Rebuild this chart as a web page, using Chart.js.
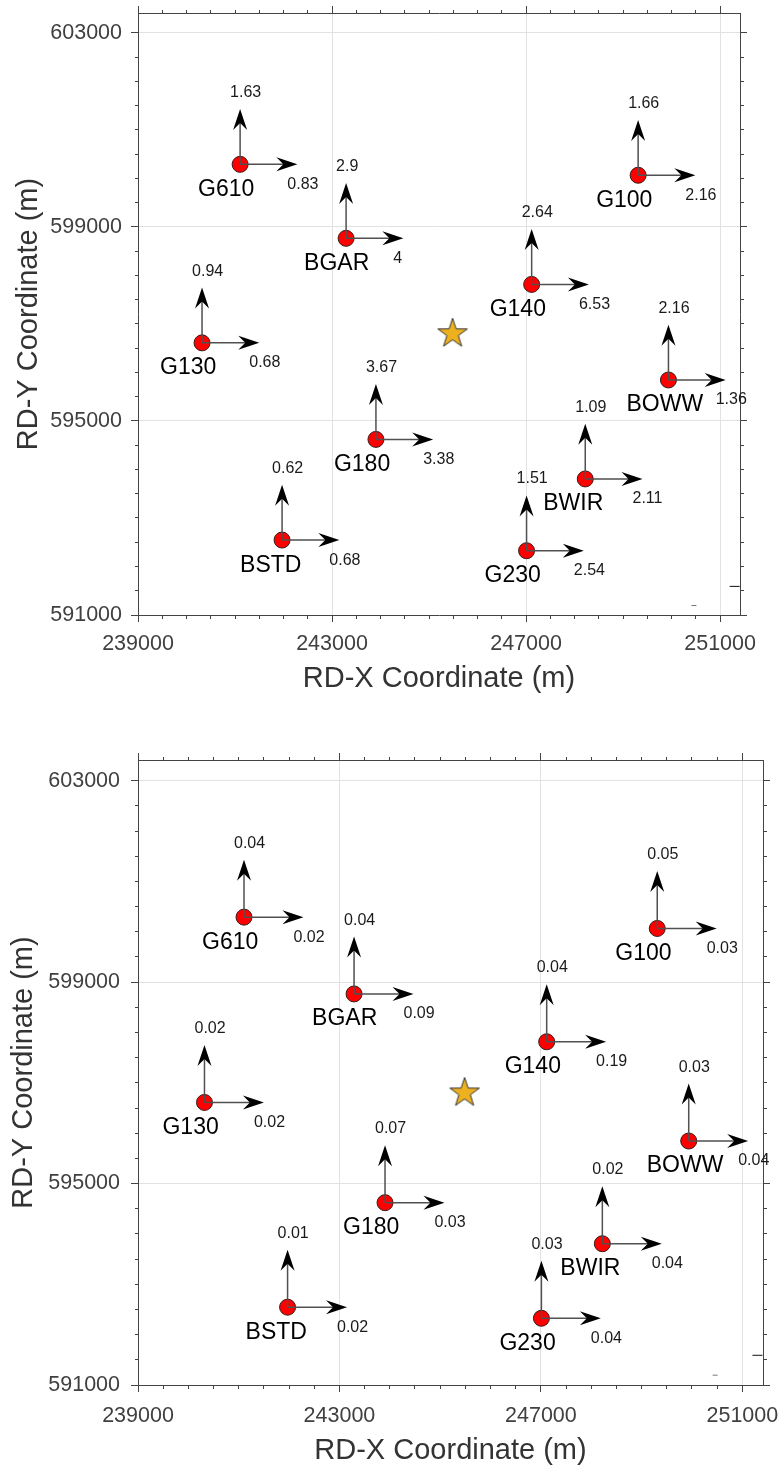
<!DOCTYPE html>
<html>
<head>
<meta charset="utf-8">
<script src="https://cdn.jsdelivr.net/npm/chart.js@4.4.1/dist/chart.umd.min.js"></script>
<style>
  body { margin: 0; background: #fff; }
  .panel { position: absolute; left: 0; width: 783px; height: 735px; }
</style>
</head>
<body>
<div class="panel" style="top:0"><canvas id="chartTop" width="783" height="735"></canvas></div>
<div class="panel" style="top:735px"><canvas id="chartBottom" width="783" height="735"></canvas></div>
<script>
// stations (RD coordinates, m)
const stations = ['G610', 'BGAR', 'G130', 'G100', 'G140', 'BOWW', 'G180', 'BWIR', 'BSTD', 'G230'];
const rdX = [241105, 243290, 240320, 249310, 247115, 249935, 243905, 248220, 241970, 247010];
const rdY = [600290, 598765, 596610, 600065, 597815, 595845, 594620, 593805, 592545, 592325];
const centreX = [245485];
const centreY = [596830];

// values shown at the arrow tips
const northTop = [1.63, 2.9, 0.94, 1.66, 2.64, 2.16, 3.67, 1.09, 0.62, 1.51];
const eastTop = [0.83, 4, 0.68, 2.16, 6.53, 1.36, 3.38, 2.11, 0.68, 2.54];
const northBottom = [0.04, 0.04, 0.02, 0.05, 0.04, 0.03, 0.07, 0.02, 0.01, 0.03];
const eastBottom = [0.02, 0.09, 0.02, 0.03, 0.19, 0.04, 0.03, 0.04, 0.02, 0.04];

// axis ticks (labelled), minor ticks split each interval in 8
const xTicks = [239000, 243000, 247000, 251000];
const yTicks = [591000, 595000, 599000, 603000];
const MINOR_PER_MAJOR = 8;

// small stray marks near the lower right corner
const strayX = [251300, 250460];
const strayY = [591590, 591195];

const FONT = '"Liberation Sans", Arial, Helvetica, sans-serif';
const X_MIN = 239000, X_MAX = 251410, Y_MIN = 591000, Y_MAX = 603410;
const ARROW_DX = 1180, ARROW_DY = 1140;

function withMinor(major, max) {
    const step = (major[1] - major[0]) / MINOR_PER_MAJOR;
    const out = [];
    for (let v = major[0]; v <= max; v += step) out.push({ value: v });
    return out;
}

function starIcon() {
    const c = document.createElement('canvas');
    c.width = 34; c.height = 34;
    const g = c.getContext('2d');
    g.beginPath();
    for (let i = 0; i < 10; i++) {
        const r = i % 2 ? 6.0 : 15.5;
        const a = -Math.PI / 2 + i * Math.PI / 5;
        g.lineTo(17 + r * Math.cos(a), 18.5 + r * Math.sin(a));
    }
    g.closePath();
    g.fillStyle = '#EDB120';
    g.fill();
    g.strokeStyle = '#333';
    g.lineWidth = 1;
    g.stroke();
    return c;
}

function arrowHead(ctx, x, y, ang) {
    ctx.save();
    ctx.translate(x, y);
    ctx.rotate(ang);
    ctx.beginPath();
    ctx.moveTo(0, 0);
    ctx.lineTo(-21, -7);
    ctx.lineTo(-14, 0);
    ctx.lineTo(-21, 7);
    ctx.closePath();
    ctx.fillStyle = '#000';
    ctx.fill();
    ctx.restore();
}

// arrows + labels drawn on top of the station markers
function vectorPlugin(north, east) {
    return {
        id: 'vectors',
        afterDatasetsDraw(chart) {
            const { ctx, scales: { x, y } } = chart;
            ctx.save();
            stations.forEach((name, i) => {
                const px = x.getPixelForValue(rdX[i]);
                const py = y.getPixelForValue(rdY[i]);
                const ex = x.getPixelForValue(rdX[i] + ARROW_DX);
                const ny = y.getPixelForValue(rdY[i] + ARROW_DY);

                ctx.strokeStyle = '#505050';
                ctx.lineWidth = 1.5;
                ctx.beginPath();
                ctx.moveTo(px, py); ctx.lineTo(ex - 12, py);
                ctx.moveTo(px, py); ctx.lineTo(px, ny + 12);
                ctx.stroke();
                arrowHead(ctx, ex, py, 0);
                arrowHead(ctx, px, ny, -Math.PI / 2);

                ctx.textAlign = 'left';
                ctx.textBaseline = 'alphabetic';
                ctx.fillStyle = '#000';
                ctx.font = '23px ' + FONT;
                ctx.fillText(name, px - 42, py + 31.5);

                ctx.fillStyle = '#1a1a1a';
                ctx.font = '16px ' + FONT;
                ctx.fillText(String(north[i]), px - 10, ny - 12);
                ctx.fillText(String(east[i]), ex - 10, py + 24.5);
            });
            ctx.restore();
        }
    };
}

function tickDash(major, fromBorder) {
    return (c) => {
        if (!c.tick || major.includes(c.tick.value)) return [];
        return fromBorder ? [3, 100] : [0, 4, 3, 100];
    };
}

// fixed axis box sizes, no extra label padding so the plot area lands where wanted
function fixSize(prop, size) {
    return (s) => {
        s[prop] = size;
        s.paddingTop = s.paddingBottom = s.paddingLeft = s.paddingRight = 0;
    };
}

function buildScales(p) {
    const common = {
        type: 'linear',
        bounds: 'data',
        border: { color: '#444', width: 1 }
    };
    const setX = (s) => { s.ticks = withMinor(xTicks, X_MAX); };
    const setY = (s) => { s.ticks = withMinor(yTicks, Y_MAX); };
    const tickFont = { size: 21.5, family: FONT };
    const titleFont = { size: 29, family: FONT };
    return {
        x: {
            ...common, position: 'bottom', min: X_MIN, max: X_MAX,
            afterBuildTicks: setX,
            afterFit: fixSize('height', p.bottomH),
            ticks: {
                autoSkip: false, maxRotation: 0, padding: p.xPad, color: '#404040', font: tickFont,
                callback: (v) => xTicks.includes(v) ? String(v) : ''
            },
            grid: {
                color: (c) => c.tick && xTicks.includes(c.tick.value) ? '#e2e2e2' : 'rgba(0,0,0,0)',
                tickColor: '#444', tickLength: 7, tickBorderDash: tickDash(xTicks, true)
            },
            title: {
                display: true, text: 'RD-X Coordinate (m)', color: '#333',
                font: titleFont, padding: { top: 0, bottom: p.xTitlePad }
            }
        },
        x2: {
            ...common, position: 'top', min: X_MIN, max: X_MAX,
            afterBuildTicks: setX,
            afterFit: fixSize('height', p.topH),
            ticks: { display: false, autoSkip: false },
            grid: { drawOnChartArea: false, tickColor: '#444', tickLength: 7, tickBorderDash: tickDash(xTicks, false) }
        },
        y: {
            ...common, position: 'left', min: Y_MIN, max: Y_MAX,
            afterBuildTicks: setY,
            afterFit: fixSize('width', 138),
            ticks: {
                autoSkip: false, padding: p.yPad, color: '#404040', font: tickFont,
                callback: (v) => yTicks.includes(v) ? String(v) : ''
            },
            grid: {
                color: (c) => c.tick && yTicks.includes(c.tick.value) ? '#e2e2e2' : 'rgba(0,0,0,0)',
                tickColor: '#444', tickLength: 7, tickBorderDash: tickDash(yTicks, false)
            },
            title: {
                display: true, text: 'RD-Y Coordinate (m)', color: '#333',
                font: titleFont, padding: { top: p.yTitlePad, bottom: 0 }
            }
        },
        y2: {
            ...common, position: 'right', min: Y_MIN, max: Y_MAX,
            afterBuildTicks: setY,
            afterFit: fixSize('width', p.rightW),
            ticks: { display: false, autoSkip: false },
            grid: { drawOnChartArea: false, tickColor: '#444', tickLength: 7, tickBorderDash: tickDash(yTicks, true) }
        }
    };
}

function drawPanel(canvasId, north, east, p) {
    const ctx = document.getElementById(canvasId).getContext('2d');
    new Chart(ctx, {
        type: 'scatter',
        data: {
            datasets: [
                {
                    data: stations.map((s, i) => ({ x: rdX[i], y: rdY[i] })),
                    pointRadius: 8,
                    pointBackgroundColor: '#ff0000',
                    pointBorderColor: '#3a1a1a',
                    pointBorderWidth: 1
                },
                {
                    data: centreX.map((v, i) => ({ x: v, y: centreY[i] })),
                    pointStyle: starIcon()
                },
                {
                    data: strayX.map((v, i) => ({ x: v, y: strayY[i] })),
                    pointStyle: 'line',
                    pointRadius: [5, 2.5],
                    pointBorderColor: ['#111', '#777'],
                    pointBorderWidth: 1
                }
            ]
        },
        options: {
            responsive: false,
            animation: false,
            events: [],
            layout: { padding: 0 },
            plugins: {
                legend: { display: false },
                tooltip: { enabled: false }
            },
            scales: buildScales(p)
        },
        plugins: [vectorPlugin(north, east)]
    });
}

drawPanel('chartTop', northTop, eastTop, {
    topH: 13, bottomH: 120, rightW: 43,
    xPad: 9.4, yPad: 9, xTitlePad: 38.8, yTitlePad: 11.2
});
drawPanel('chartBottom', northBottom, eastBottom, {
    topH: 25, bottomH: 85, rightW: 20,
    xPad: 11.4, yPad: 11, xTitlePad: 1.8, yTitlePad: 6.2
});
</script>
</body>
</html>
